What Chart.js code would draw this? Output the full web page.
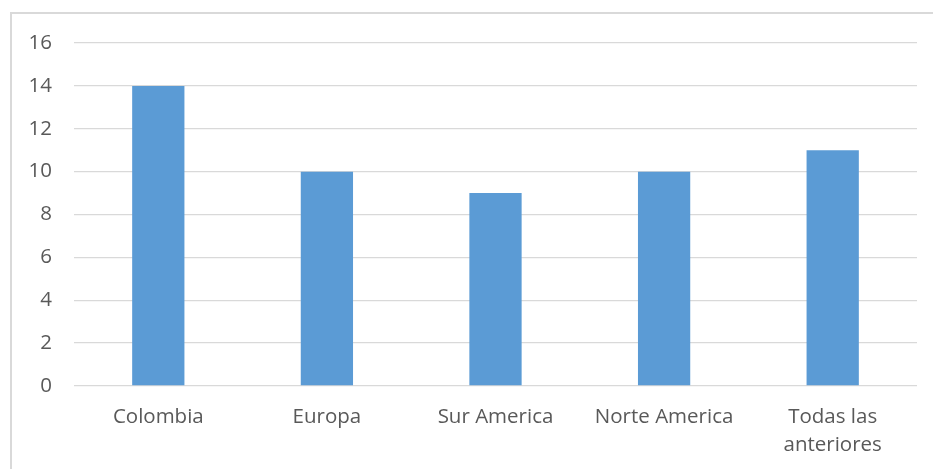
<!DOCTYPE html>
<html><head><meta charset="utf-8">
<script src="https://cdn.jsdelivr.net/npm/chart.js@4/dist/chart.umd.min.js"></script>
<style>
html,body{margin:0;padding:0;background:#fff;overflow:hidden}
#frame{position:absolute;left:10px;top:12px;width:960px;height:500px;border:2px solid #d9d9d9;box-sizing:border-box}
#wrap{position:absolute;left:0;top:0;width:933px;height:469px}
</style></head>
<body>
<div id="frame"></div>
<div id="wrap"><canvas id="c" width="933" height="469"></canvas></div>
<script>
const categories = [["Colombia"], ["Europa"], ["Sur America"], ["Norte America"], ["Todas las", "anteriores"]];
const values = [14, 10, 9, 10, 11];
const yTicks = [0, 2, 4, 6, 8, 10, 12, 14, 16];

const font = {family: "'Open Sans', sans-serif", size: 20.5, lineHeight: 1.37};
new Chart(document.getElementById('c'), {
  type: 'bar',
  data: {
    labels: categories,
    datasets: [{data: values, backgroundColor: '#5b9bd5', borderWidth: 0,
      barPercentage: 1, categoryPercentage: 0.31}]
  },
  options: {
    responsive: false, animation: false,
    layout: {padding: {left: 0, right: 16, top: 43, bottom: 0}},
    plugins: {legend: {display: false}, tooltip: {enabled: false}},
    scales: {
      x: {
        grid: {display: false, drawTicks: false},
        border: {display: false},
        ticks: {color: '#595959', font: font, padding: 17, maxRotation: 0, autoSkip: false},
        afterFit: s => { s.height = 83; }
      },
      y: {
        min: 0, max: 16,
        afterBuildTicks: s => { s.ticks = yTicks.map(v => ({value: v})); },
        grid: {color: '#d9d9d9', lineWidth: 1.3, drawTicks: false},
        border: {display: false},
        ticks: {color: '#595959', font: {family: "'Open Sans', sans-serif", size: 20.5}, padding: 22},
        afterFit: s => { s.width = 74; }
      }
    }
  }
});
</script>
</body></html>
